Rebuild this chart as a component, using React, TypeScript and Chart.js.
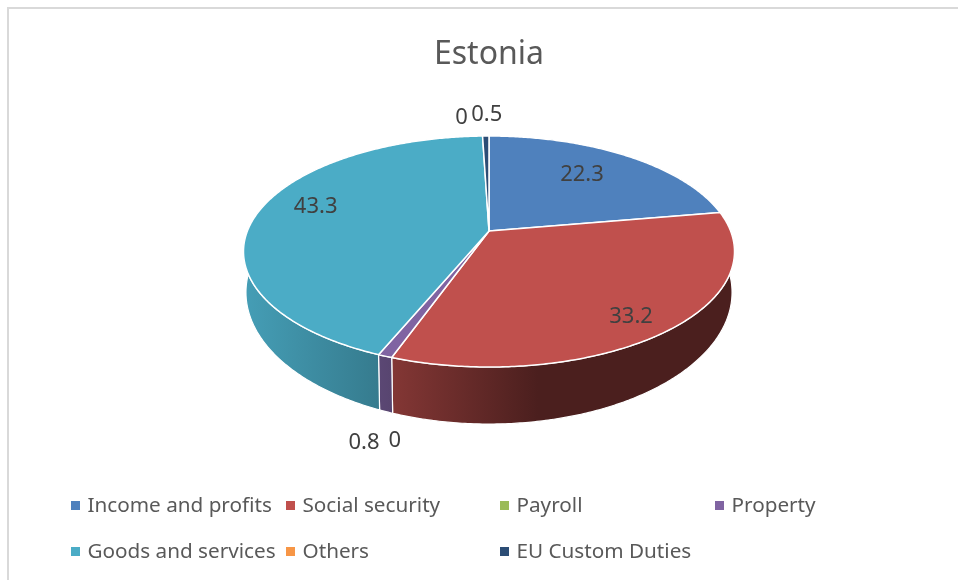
import React, { useEffect, useRef } from "react";
import { Chart, registerables } from "chart.js";

Chart.register(...registerables);

const titleText = "Estonia";
const categories = ["Income and profits", "Social security", "Payroll", "Property", "Goods and services", "Others", "EU Custom Duties"];
const shares = [22.3, 33.2, 0, 0.8, 43.3, 0, 0.5];
const sliceColors = ["#4f81bd", "#c0504d", "#9bbb59", "#8064a2", "#4bacc6", "#f79646", "#2c4d75"];
// Label placement, as a pixel offset from the slice's rim point.
const labelOffsets = [[-44, 19], [-38, -13], [3, 83], [-21, 87], [57, -5], [-21, -18], [1, -21]];

const textColor = "#595959";
const labelColor = "#404040";
const fontFamily = "'Noto Sans', sans-serif";
const tilt = 0.463; // vertical squash of the disc
const perspective = 0.1775;
const floorDrop = 38;
const floorScaleX = 0.99;
const floorScaleY = 1.14;

type Pt = { x: number; y: number };

function rimPoint(cx: number, cy: number, r: number, angle: number): Pt {
  const u = Math.cos(angle);
  const v = Math.sin(angle);
  const s = 1 / (1 - perspective * v);
  return { x: cx + r * u * s, y: cy + r * tilt * v * s };
}

function floorPoint(p: Pt, cx: number, cy: number): Pt {
  return { x: cx + (p.x - cx) * floorScaleX, y: cy + floorDrop + (p.y - cy) * floorScaleY };
}

function shade(hex: string, f: number): string {
  const n = parseInt(hex.slice(1), 16);
  const c = [(n >> 16) & 255, (n >> 8) & 255, n & 255].map((ch) => Math.round(ch * f));
  return `rgb(${c[0]},${c[1]},${c[2]})`;
}

const tiltedPie = {
  id: "tiltedPie",
  beforeDatasetsDraw(chart: any) {
    const ctx: CanvasRenderingContext2D = chart.ctx;
    const arcs = chart.getDatasetMeta(0).data;
    const rims = arcs.map((arc: any) => {
      const pts: Pt[] = [];
      const span = arc.endAngle - arc.startAngle;
      const steps = Math.max(2, Math.ceil(span / 0.01));
      for (let i = 0; i <= steps; i++) {
        pts.push(rimPoint(arc.x, arc.y, arc.outerRadius, arc.startAngle + (span * i) / steps));
      }
      return pts;
    });

    ctx.save();
    ctx.lineJoin = "round";
    ctx.strokeStyle = "#ffffff";

    // Side walls, shaded left to right across the disc.
    arcs.forEach((arc: any, i: number) => {
      if (arc.endAngle - arc.startAngle <= 0) return;
      const R = arc.outerRadius / Math.sqrt(1 - perspective * perspective);
      const g = ctx.createLinearGradient(arc.x - R, 0, arc.x + R, 0);
      const col = sliceColors[i];
      g.addColorStop(0, shade(col, 0.92));
      g.addColorStop(0.27, shade(col, 0.72));
      g.addColorStop(0.3, shade(col, 0.69));
      g.addColorStop(0.6, shade(col, 0.39));
      g.addColorStop(1, shade(col, 0.39));
      const rim: Pt[] = rims[i];
      ctx.beginPath();
      rim.forEach((p, k) => (k ? ctx.lineTo(p.x, p.y) : ctx.moveTo(p.x, p.y)));
      [...rim].reverse().forEach((p) => {
        const f = floorPoint(p, arc.x, arc.y);
        ctx.lineTo(f.x, f.y);
      });
      ctx.closePath();
      ctx.fillStyle = g;
      ctx.fill();
      ctx.lineWidth = 1.2;
      ctx.stroke();
    });

    // Top faces.
    arcs.forEach((arc: any, i: number) => {
      if (arc.endAngle - arc.startAngle <= 0) return;
      ctx.beginPath();
      ctx.moveTo(arc.x, arc.y);
      rims[i].forEach((p: Pt) => ctx.lineTo(p.x, p.y));
      ctx.closePath();
      ctx.fillStyle = sliceColors[i];
      ctx.fill();
      ctx.lineWidth = 1.5;
      ctx.stroke();
    });

    // Value labels.
    ctx.font = `22px ${fontFamily}`;
    ctx.fillStyle = labelColor;
    ctx.textAlign = "center";
    ctx.textBaseline = "middle";
    arcs.forEach((arc: any, i: number) => {
      const mid = (arc.startAngle + arc.endAngle) / 2;
      const p = rimPoint(arc.x, arc.y, arc.outerRadius, mid);
      ctx.fillText(String(shares[i]), p.x + labelOffsets[i][0], p.y + labelOffsets[i][1]);
    });
    ctx.restore();
    return false;
  },
  afterDraw(chart: any) {
    const ctx: CanvasRenderingContext2D = chart.ctx;
    ctx.save();
    // Chart frame, cut off on the right and at the bottom.
    ctx.fillStyle = "#d9d9d9";
    ctx.fillRect(7, 7, 951, 2);
    ctx.fillRect(7, 7, 2, 573);

    // Legend on a fixed column grid.
    const columns = [71, 286, 500, 715];
    const rows = [506, 552];
    ctx.font = `20.7px ${fontFamily}`;
    ctx.textBaseline = "middle";
    ctx.textAlign = "left";
    categories.forEach((name, i) => {
      const x = columns[i % 4];
      const y = rows[Math.floor(i / 4)];
      ctx.fillStyle = sliceColors[i];
      ctx.fillRect(x, y - 5, 9, 9);
      ctx.fillStyle = textColor;
      ctx.fillText(name, x + 16.5, y);
    });
    ctx.restore();
  },
};

export default function App() {
  const ref = useRef<HTMLCanvasElement>(null);
  useEffect(() => {
    const chart = new Chart(ref.current!, {
      type: "pie",
      data: {
        labels: categories,
        datasets: [{ data: shares, backgroundColor: sliceColors, borderWidth: 0 }],
      },
      options: {
        responsive: false,
        animation: false,
        radius: 241.6,
        layout: { padding: { left: 20, right: 0, top: 0, bottom: 192.2 } },
        plugins: {
          legend: { display: false },
          tooltip: { enabled: false },
          title: {
            display: true,
            text: titleText,
            color: textColor,
            font: { size: 32, family: fontFamily, weight: "normal", lineHeight: 1.2 },
            padding: { top: 35.8, bottom: 0 },
          },
        },
      },
      plugins: [tiltedPie],
    } as any);
    return () => chart.destroy();
  }, []);
  return (
    <div style={{ position: "absolute", left: 0, top: 0, width: 958, height: 580, background: "#fff" }}>
      <canvas ref={ref} width={958} height={580} style={{ display: "block" }} />
    </div>
  );
}
